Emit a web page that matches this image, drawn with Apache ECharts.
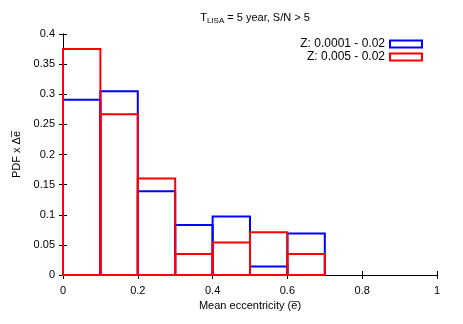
<!DOCTYPE html>
<html>
<head>
<meta charset="utf-8">
<script src="https://cdn.jsdelivr.net/npm/echarts@6/dist/echarts.min.js"></script>
<style>html,body{margin:0;padding:0;background:#fff}#main{width:463px;height:324px}</style>
</head>
<body>
<div id="main"></div>
<script>
// bin edges (mean eccentricity) and PDF x delta-e per bin
const binEdges = [0, 0.1, 0.2, 0.3, 0.4, 0.5, 0.6, 0.7];
const blueVals = [0.291, 0.305, 0.139, 0.083, 0.097, 0.014, 0.069];
const redVals = [0.375, 0.267, 0.160, 0.035, 0.054, 0.071, 0.035];
const seriesNames = ['Z: 0.0001 - 0.02', 'Z: 0.005 - 0.02'];
const xTicks = [0, 0.2, 0.4, 0.6, 0.8, 1];

const fontFam = 'Liberation Sans, Arial, sans-serif';

function bins(vals) {
  return vals.map((v, i) => [binEdges[i], binEdges[i + 1], v]);
}

function makeRender(color) {
  return function (params, api) {
    const p0 = api.coord([api.value(0), api.value(2)]);
    const p1 = api.coord([api.value(1), 0]);
    return {
      type: 'rect',
      shape: { x: p0[0], y: p0[1], width: p1[0] - p0[0], height: p1[1] - p0[1] },
      style: { fill: 'none', stroke: color, lineWidth: 2 }
    };
  };
}

const chart = echarts.init(document.getElementById('main'));
const axisCommon = {
  axisLine: { show: true, lineStyle: { color: '#000', width: 1 } },
  axisTick: { show: true, inside: true, length: 4, lineStyle: { color: '#000' } },
  splitLine: { show: false },
  axisLabel: { color: '#000', fontFamily: fontFam, fontSize: 11 }
};

chart.setOption({
  animation: false,
  backgroundColor: '#fff',
  title: {
    text: '{n|T}{s|LISA}{n| = 5 year, S/N > 5}',
    left: 250, top: 6, textAlign: 'center',
    textStyle: {
      fontWeight: 'normal',
      rich: {
        n: { fontFamily: fontFam, fontSize: 11, color: '#000', fontWeight: 'normal' },
        s: { fontFamily: fontFam, fontSize: 8, color: '#000', fontWeight: 'normal', padding: [6, 0, 0, 0] }
      }
    }
  },
  legend: {
    orient: 'vertical', right: 40, top: 38, padding: 0,
    align: 'right', itemWidth: 32, itemHeight: 7, itemGap: 1,
    textStyle: { fontFamily: fontFam, fontSize: 12, color: '#000', padding: [0, 0, 0, 0] },
    data: [
      { name: seriesNames[0], icon: 'rect', itemStyle: { color: '#fff', borderColor: '#0000ff', borderWidth: 2 } },
      { name: seriesNames[1], icon: 'rect', itemStyle: { color: '#fff', borderColor: '#ff0000', borderWidth: 2 } }
    ]
  },
  grid: { left: 63, right: 26, top: 34, bottom: 49 },
  xAxis: [
    Object.assign({}, axisCommon, {
      type: 'value', min: 0, max: 1, interval: 0.2,
      name: 'Mean eccentricity (e\u0305)', nameLocation: 'middle', nameGap: 25,
      nameTextStyle: { fontFamily: fontFam, fontSize: 11, color: '#000' },
      axisLabel: Object.assign({}, axisCommon.axisLabel, { margin: 10, formatter: v => xTicks.includes(+v.toFixed(1)) ? String(+v.toFixed(1)) : '' })
    }),
    Object.assign({}, axisCommon, {
      type: 'value', min: 0, max: 1, interval: 0.2, position: 'top',
      axisLabel: { show: false }
    })
  ],
  yAxis: [
    Object.assign({}, axisCommon, {
      type: 'value', min: 0, max: 0.4, interval: 0.05,
      name: 'PDF x \u0394e\u0305', nameLocation: 'middle', nameGap: 38,
      nameTextStyle: { fontFamily: fontFam, fontSize: 11, color: '#000' },
      axisLabel: Object.assign({}, axisCommon.axisLabel, { formatter: v => String(+v.toFixed(2)) })
    }),
    Object.assign({}, axisCommon, {
      type: 'value', min: 0, max: 0.4, interval: 0.05, position: 'right',
      axisLabel: { show: false }
    })
  ],
  series: [
    { name: seriesNames[0], type: 'custom', renderItem: makeRender('#0000ff'), data: bins(blueVals),
      itemStyle: { color: '#0000ff' }, encode: { x: [0, 1], y: 2 }, z: 2 },
    { name: seriesNames[1], type: 'custom', renderItem: makeRender('#ff0000'), data: bins(redVals),
      itemStyle: { color: '#ff0000' }, encode: { x: [0, 1], y: 2 }, z: 3 }
  ]
});
</script>
</body>
</html>
